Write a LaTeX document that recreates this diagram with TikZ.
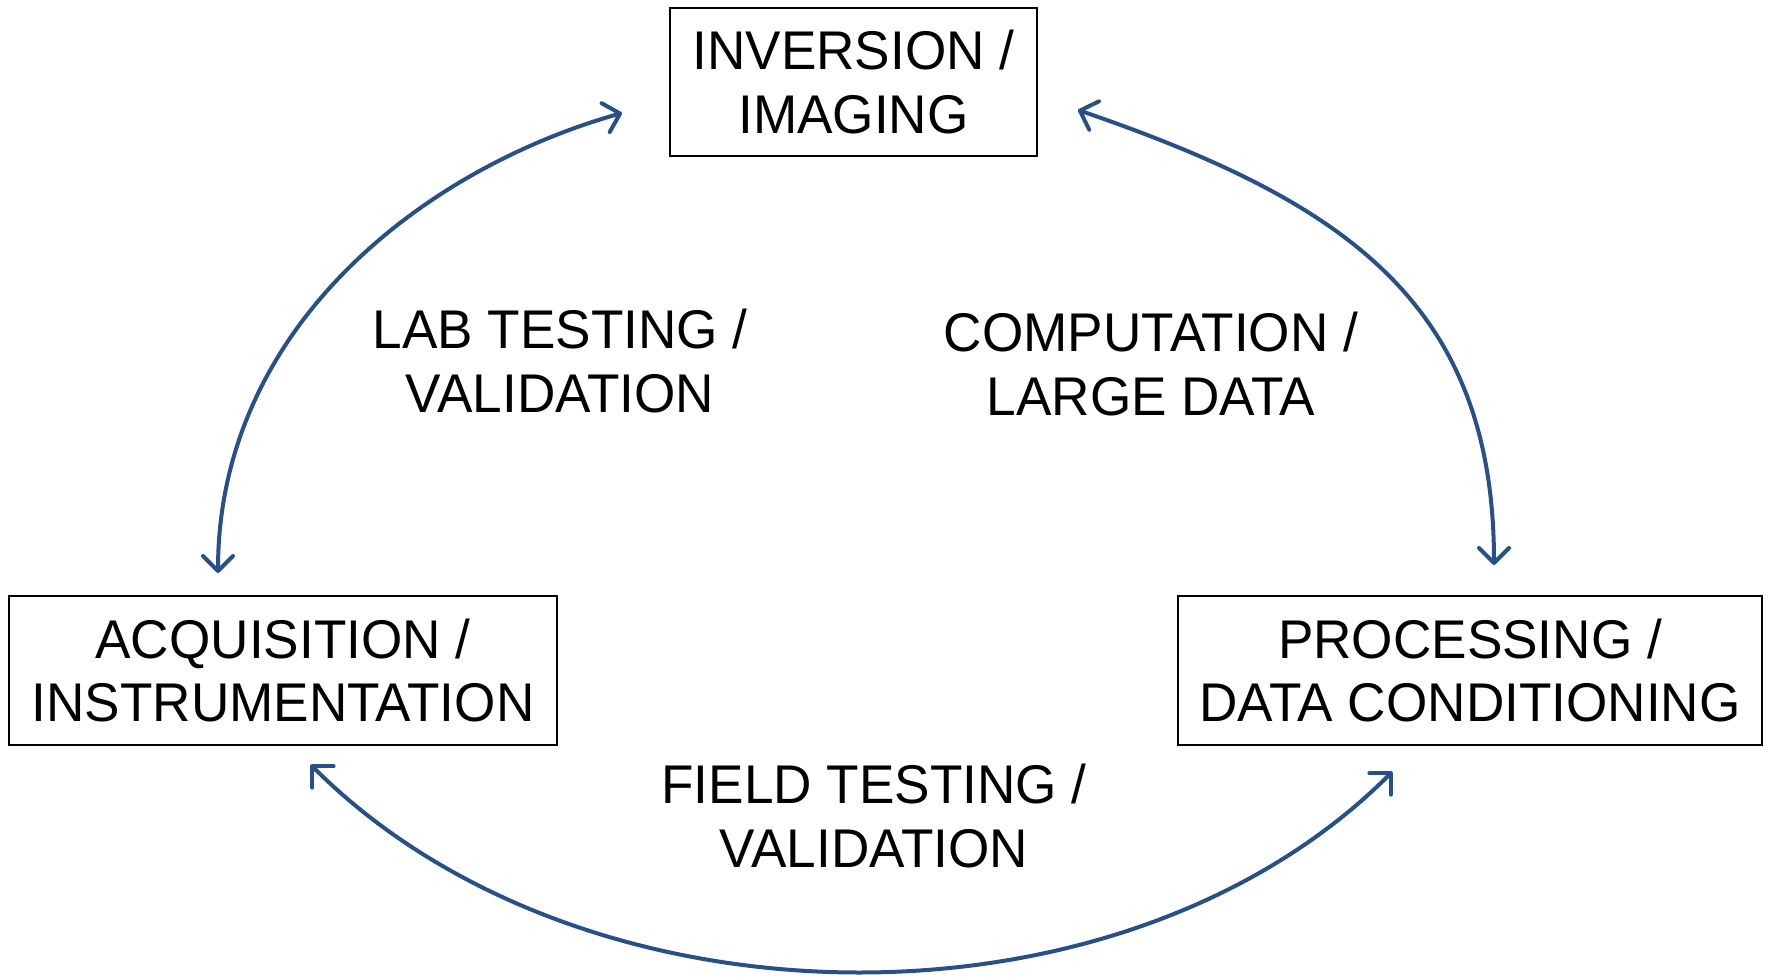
\documentclass[tikz,border=0pt]{standalone}
\usepackage{fontspec}
\setmainfont{Liberation Sans}[FakeStretch=0.975]
\usetikzlibrary{arrows.meta}
\definecolor{arrowblue}{RGB}{38,80,135}
\begin{document}
\begin{tikzpicture}[x=1pt,y=-1pt,
  box/.style={draw=black, line width=1.3pt, inner sep=0pt, align=center,
    font=\fontsize{54.5}{63.5}\selectfont},
  lbl/.style={inner sep=0pt, align=center, font=\fontsize{54.5}{63.5}\selectfont},
  link/.style={draw=arrowblue, line width=4pt, line cap=round,
    {Straight Barb[length=15pt,width=30pt,round]}-{Straight Barb[length=15pt,width=30pt,round]}}]
\useasboundingbox (0,0) rectangle (1768,977);
% boxes
\node[box, minimum width=367pt, minimum height=148pt] (inv) at (853.5,82) {INVERSION /\\IMAGING};
\node[box, minimum width=548pt, minimum height=149pt] (acq) at (283,670.5) {ACQUISITION /\\INSTRUMENTATION};
\node[box, minimum width=584pt, minimum height=149pt] (proc) at (1470,670.5) {PROCESSING /\\DATA CONDITIONING};
% labels
\node[lbl] (lab) at (560,361) {LAB TESTING /\\VALIDATION};
\node[lbl] (comp) at (1151,364) {COMPUTATION /\\LARGE DATA};
\node[lbl] (field) at (874,816) {FIELD TESTING /\\VALIDATION};
% arrow end points
\coordinate (labTop) at (622,113);
\coordinate (labBot) at (218,573);
\coordinate (compTop) at (1078,110);
\coordinate (compBot) at (1494,565);
\coordinate (fieldL) at (311,765);
\coordinate (fieldR) at (1392,772);
% connectors
\draw[link] (labBot) .. controls (218,330) and (420,170) .. (labTop);
\draw[link] (compTop) .. controls (1340,200) and (1494,300) .. (compBot);
\draw[link] (fieldL) .. controls (582,1036) and (1121,1043) .. (fieldR);
\end{tikzpicture}
\end{document}
